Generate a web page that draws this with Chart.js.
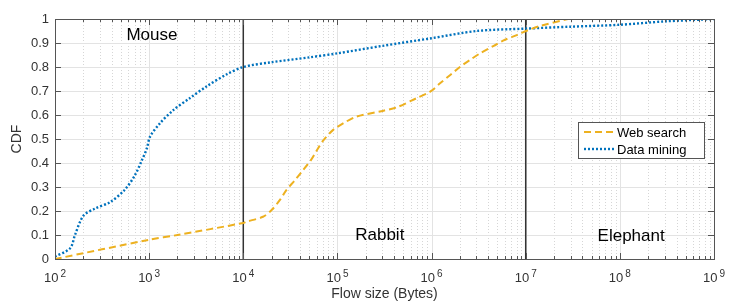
<!DOCTYPE html>
<html><head><meta charset="utf-8">
<script src="https://cdn.jsdelivr.net/npm/chart.js@4.4.1/dist/chart.umd.min.js"></script>
<style>html,body{margin:0;padding:0;background:#fff}#wrap{width:747px;height:305px}</style>
</head><body><div id="wrap"><canvas id="c" width="747" height="305"></canvas></div>
<script>
const webX = [100, 1000, 2000, 10000, 10700, 16200, 20000, 24500, 28800, 35500, 43200, 52500, 60300, 70800, 90200, 115000, 158000, 309000, 427000, 692000, 966000, 1.23e6, 1.58e6, 2e6, 2.57e6, 3.28e6, 4.57e6, 5.75e6, 8.04e6, 1.07e7, 1.4e7, 2.8e7];
const webY = [0, 0.08, 0.1, 0.15, 0.155, 0.176, 0.204, 0.246, 0.288, 0.329, 0.371, 0.413, 0.452, 0.494, 0.538, 0.565, 0.593, 0.618, 0.632, 0.67, 0.697, 0.732, 0.767, 0.80, 0.83, 0.857, 0.888, 0.91, 0.933, 0.954, 0.97, 1.0];
const mineX = [100, 145, 163, 200, 266, 385, 555, 708, 834, 944, 1023, 1300, 1800, 2700, 4100, 6700, 10000, 20000, 50000, 100000, 300000, 1e6, 3e6, 1e7, 3e7, 1e8, 3e8, 1e9];
const mineY = [0.01, 0.045, 0.1, 0.18, 0.21, 0.237, 0.29, 0.35, 0.41, 0.46, 0.51, 0.565, 0.62, 0.67, 0.72, 0.77, 0.80, 0.82, 0.84, 0.857, 0.888, 0.92, 0.95, 0.96, 0.968, 0.976, 0.99, 1.0];
const seriesNames = ["Web search", "Data mining"];
const xExponents = [2, 3, 4, 5, 6, 7, 8, 9];
const yTicks = [0, 0.1, 0.2, 0.3, 0.4, 0.5, 0.6, 0.7, 0.8, 0.9, 1];
const yTickLabels = ["0", "0.1", "0.2", "0.3", "0.4", "0.5", "0.6", "0.7", "0.8", "0.9", "1"];
const boundaries = [1e4, 1e7];
const regionLabels = [{text: "Mouse", x: 10 ** 3.03, y: 0.93}, {text: "Rabbit", x: 10 ** 5.45, y: 0.1}, {text: "Elephant", x: 10 ** 8.12, y: 0.096}];

const FONT = '"Liberation Sans", Arial, sans-serif';
const ORANGE = '#EDB120', BLUE = '#0072BD';

const decor = {
  id: 'decor',
  beforeDatasetsDraw(chart) {
    const {ctx, chartArea: a, scales: {x, y}} = chart;
    ctx.save();
    ctx.lineWidth = 1;
    ctx.strokeStyle = '#d6d6d6';
    ctx.setLineDash([1, 2]);
    for (let e = 2; e < 9; e++) {
      for (let m = 2; m <= 9; m++) {
        const px = Math.round(x.getPixelForValue(m * 10 ** e)) + 0.5;
        ctx.beginPath(); ctx.moveTo(px, a.top); ctx.lineTo(px, a.bottom); ctx.stroke();
      }
    }
    ctx.setLineDash([]);
    ctx.strokeStyle = '#e3e3e3';
    xExponents.forEach(e => {
      const px = Math.round(x.getPixelForValue(10 ** e)) + 0.5;
      ctx.beginPath(); ctx.moveTo(px, a.top); ctx.lineTo(px, a.bottom); ctx.stroke();
    });
    yTicks.forEach(v => {
      const py = Math.round(y.getPixelForValue(v)) + 0.5;
      ctx.beginPath(); ctx.moveTo(a.left, py); ctx.lineTo(a.right, py); ctx.stroke();
    });
    ctx.strokeStyle = '#333333';
    ctx.lineWidth = 1.5;
    boundaries.forEach(b => {
      const px = x.getPixelForValue(b);
      ctx.beginPath(); ctx.moveTo(px, a.top); ctx.lineTo(px, a.bottom); ctx.stroke();
    });
    ctx.restore();
  },
  afterDatasetsDraw(chart) {
    const {ctx, chartArea: a, scales: {x, y}} = chart;
    ctx.save();
    ctx.strokeStyle = '#555555';
    ctx.lineWidth = 1;
    ctx.strokeRect(Math.round(a.left) + 0.5, Math.round(a.top) + 0.5, Math.round(a.right - a.left), Math.round(a.bottom - a.top));
    ctx.beginPath();
    xExponents.forEach(e => {
      const px = Math.round(x.getPixelForValue(10 ** e)) + 0.5;
      ctx.moveTo(px, a.bottom); ctx.lineTo(px, a.bottom - 6);
      ctx.moveTo(px, a.top); ctx.lineTo(px, a.top + 6);
      if (e < 9) for (let m = 2; m <= 9; m++) {
        const q = Math.round(x.getPixelForValue(m * 10 ** e)) + 0.5;
        ctx.moveTo(q, a.bottom); ctx.lineTo(q, a.bottom - 3);
        ctx.moveTo(q, a.top); ctx.lineTo(q, a.top + 3);
      }
    });
    yTicks.forEach(v => {
      const py = Math.round(y.getPixelForValue(v)) + 0.5;
      ctx.moveTo(a.left, py); ctx.lineTo(a.left + 6, py);
      ctx.moveTo(a.right, py); ctx.lineTo(a.right - 6, py);
    });
    ctx.stroke();
    ctx.fillStyle = '#333333';
    ctx.font = '13px ' + FONT;
    ctx.textAlign = 'right'; ctx.textBaseline = 'middle';
    yTicks.forEach((v, i) => ctx.fillText(yTickLabels[i], a.left - 6, y.getPixelForValue(v)));
    xExponents.forEach(e => {
      const px = x.getPixelForValue(10 ** e);
      ctx.font = '13px ' + FONT;
      const w1 = ctx.measureText('10').width;
      ctx.font = '10px ' + FONT;
      const w2 = ctx.measureText(String(e)).width;
      const start = px - (w1 + 2 + w2) / 2;
      ctx.textAlign = 'left'; ctx.textBaseline = 'alphabetic';
      ctx.font = '13px ' + FONT;
      ctx.fillText('10', start, a.bottom + 23);
      ctx.font = '10px ' + FONT;
      ctx.fillText(String(e), start + w1 + 2, a.bottom + 18);
    });
    ctx.font = '14px ' + FONT;
    ctx.textAlign = 'center'; ctx.textBaseline = 'middle';
    ctx.fillText('Flow size (Bytes)', (a.left + a.right) / 2, 294);
    ctx.save();
    ctx.translate(17, (a.top + a.bottom) / 2);
    ctx.rotate(-Math.PI / 2);
    ctx.fillText('CDF', 0, 0);
    ctx.restore();
    ctx.fillStyle = '#000';
    ctx.font = '17px ' + FONT;
    regionLabels.forEach(r => ctx.fillText(r.text, x.getPixelForValue(r.x), y.getPixelForValue(r.y)));
    const lx = 578, ly = 122, lw = 126, lh = 36;
    ctx.fillStyle = '#fff';
    ctx.fillRect(lx, ly, lw, lh);
    ctx.strokeStyle = '#555555'; ctx.lineWidth = 1;
    ctx.strokeRect(lx + 0.5, ly + 0.5, lw, lh);
    chart.data.datasets.forEach((ds, i) => {
      const yy = ly + 10 + i * 17;
      ctx.strokeStyle = ds.borderColor; ctx.lineWidth = ds.borderWidth;
      ctx.setLineDash(ds.borderDash);
      ctx.beginPath(); ctx.moveTo(lx + 6, yy); ctx.lineTo(lx + 36, yy); ctx.stroke();
      ctx.setLineDash([]);
      ctx.fillStyle = '#000'; ctx.font = '13px ' + FONT;
      ctx.textAlign = 'left'; ctx.textBaseline = 'middle';
      ctx.fillText(ds.label, lx + 39, yy + 1);
    });
    ctx.restore();
  }
};

new Chart(document.getElementById('c'), {
  type: 'line',
  data: {
    datasets: [
      {label: seriesNames[0], data: webX.map((v, i) => ({x: v, y: webY[i]})), borderColor: ORANGE, borderWidth: 2, borderDash: [7, 4], pointRadius: 0, tension: 0.3, fill: false},
      {label: seriesNames[1], data: mineX.map((v, i) => ({x: v, y: mineY[i]})), borderColor: BLUE, borderWidth: 2.4, borderDash: [2, 2], pointRadius: 0, tension: 0.3, fill: false}
    ]
  },
  options: {
    responsive: false, animation: false, devicePixelRatio: 1,
    layout: {padding: {left: 55, right: 33, top: 19, bottom: 46}},
    plugins: {legend: {display: false}, tooltip: {enabled: false}},
    scales: {
      x: {type: 'logarithmic', min: 100, max: 1e9, ticks: {display: false}, grid: {display: false, drawTicks: false}, border: {display: false}, afterFit(s) { s.height = 0; }},
      y: {type: 'linear', min: 0, max: 1, ticks: {display: false}, grid: {display: false, drawTicks: false}, border: {display: false}, afterFit(s) { s.width = 0; }}
    }
  },
  plugins: [decor]
});
</script></body></html>
